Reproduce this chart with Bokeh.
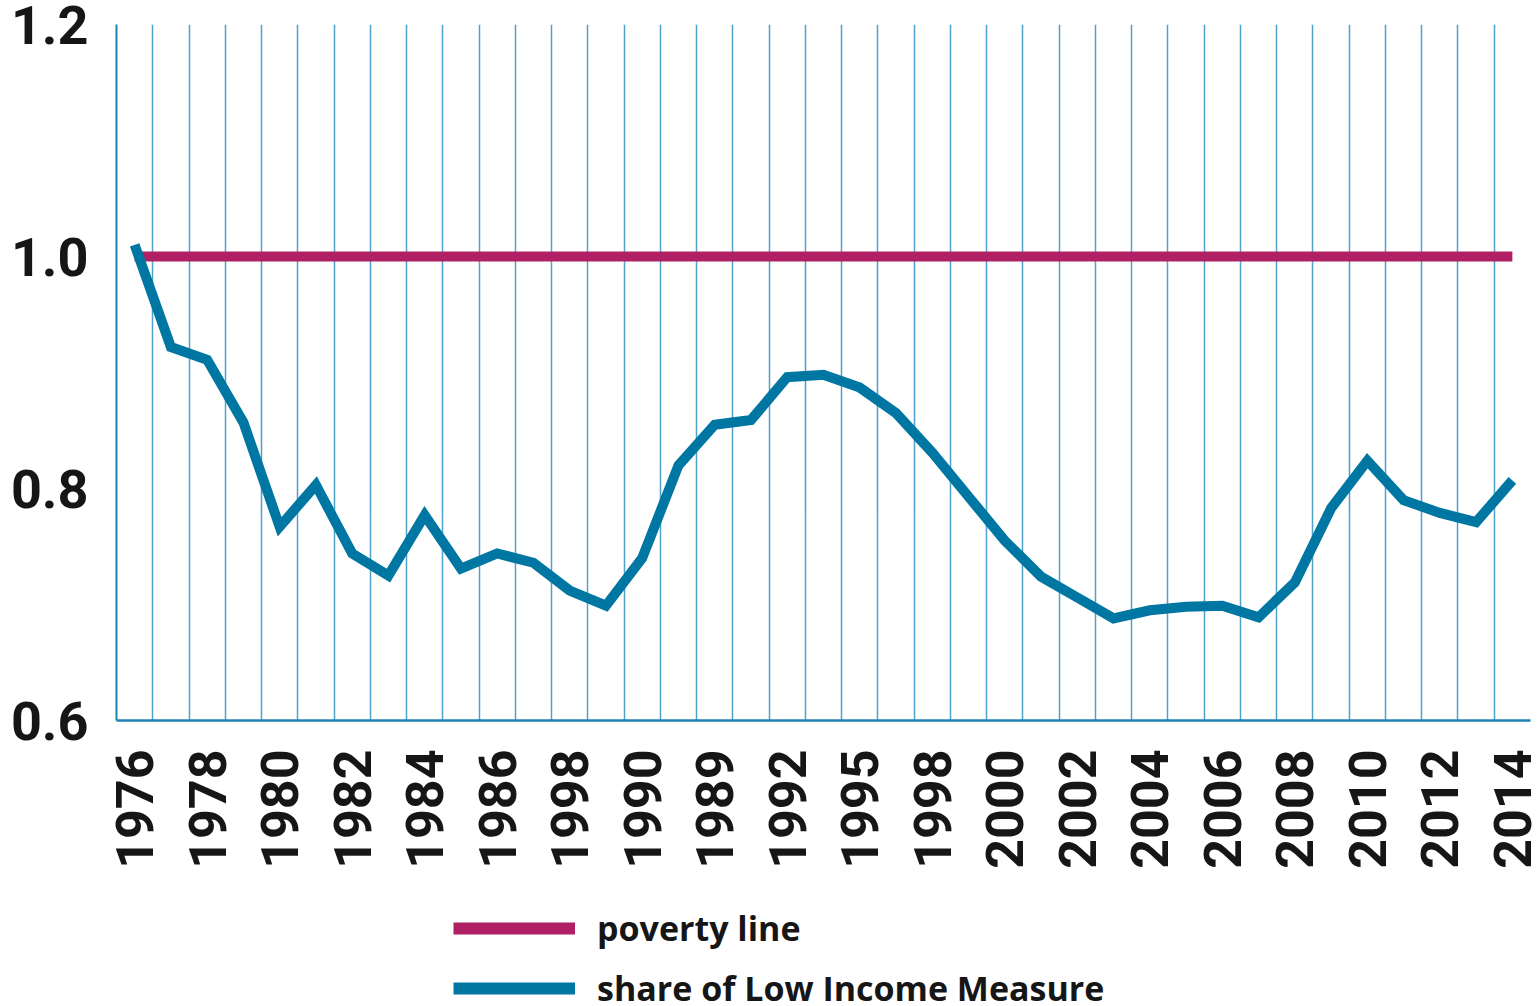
import math
from bokeh.plotting import figure
from bokeh.layouts import column
from bokeh.models import FixedTicker, Legend, LegendItem, Range1d, PrintfTickFormatter, ColumnDataSource
from bokeh.embed import file_html
from bokeh.resources import INLINE

# x-axis tick labels (as printed on the original chart, every second year slot)
tick_labels = ["1976", "1978", "1980", "1982", "1984", "1986", "1998", "1990", "1989", "1992",
               "1995", "1998", "2000", "2002", "2004", "2006", "2008", "2010", "2012", "2014"]

# share of Low Income Measure, one value per year slot 1976..2014
share_lim = [1.010, 0.922, 0.911, 0.857, 0.767, 0.803, 0.744, 0.725, 0.777, 0.731,
             0.744, 0.736, 0.712, 0.699, 0.740, 0.820, 0.855, 0.859, 0.896, 0.898,
             0.887, 0.865, 0.831, 0.793, 0.755, 0.724, 0.706, 0.688, 0.695, 0.698,
             0.699, 0.689, 0.719, 0.783, 0.824, 0.790, 0.779, 0.771, 0.807]

# poverty line (constant ratio 1.0)
poverty_line = [1.0] * len(share_lim)

y_ticks = [0.6, 0.8, 1.0, 1.2]
series_names = ["poverty line", "share of Low Income Measure"]

n = len(share_lim)
xs = list(range(n))
src = ColumnDataSource(dict(x=xs, share=share_lim, poverty=poverty_line))

TEAL = "#0077a2"
MAGENTA = "#b11f64"
GRID = "#3d97c4"
AXIS = "#1f80b3"
TXT = "#161616"

p = figure(width=1538, height=880, output_backend="svg", toolbar_location=None,
           x_range=Range1d(-0.5, n - 0.5), y_range=Range1d(0.6, 1.2),
           min_border_left=116, min_border_right=8, min_border_top=24, min_border_bottom=160)
p.outline_line_color = None
p.background_fill_color = "white"
p.border_fill_color = "white"

# grid: vertical lines at slot boundaries only
p.ygrid.visible = False
p.xgrid.ticker = FixedTicker(ticks=[i - 0.5 for i in range(n + 1)])
p.xgrid.grid_line_color = GRID
p.xgrid.grid_line_width = 1.5
p.xgrid.grid_line_alpha = 0.9

# x axis
p.xaxis.ticker = FixedTicker(ticks=list(range(0, n, 2)))
p.xaxis.major_label_overrides = {i * 2: lab for i, lab in enumerate(tick_labels)}
p.xaxis.major_label_orientation = math.pi / 2
p.xaxis.major_label_text_font = "Roboto"
p.xaxis.major_label_text_font_style = "bold"
p.xaxis.major_label_text_font_size = "52px"
p.xaxis.major_label_text_color = TXT
p.xaxis.major_label_standoff = 23
p.xaxis.major_tick_line_color = None
p.xaxis.minor_tick_line_color = None
p.xaxis.axis_line_color = AXIS
p.xaxis.axis_line_width = 2.5

# y axis
p.yaxis.ticker = FixedTicker(ticks=y_ticks)
p.yaxis.formatter = PrintfTickFormatter(format="%.1f")
p.yaxis.major_label_text_font = "Roboto"
p.yaxis.major_label_text_font_style = "bold"
p.yaxis.major_label_text_font_size = "54px"
p.yaxis.major_label_text_color = TXT
p.yaxis.major_label_standoff = 22
p.yaxis.major_tick_line_color = None
p.yaxis.minor_tick_line_color = None
p.yaxis.axis_line_color = AXIS
p.yaxis.axis_line_width = 2

p.line("x", "poverty", source=src, line_color=MAGENTA, line_width=10)
p.line("x", "share", source=src, line_color=TEAL, line_width=10, line_join="miter")

# legend strip below the chart (its frame is aligned with the chart's frame)
lg = figure(width=1538, height=126, output_backend="svg", toolbar_location=None,
            x_range=Range1d(-0.5, n - 0.5), y_range=Range1d(0.0, 0.5),
            x_axis_location=None, y_axis_location=None,
            min_border_left=0, min_border_right=0, min_border_top=0, min_border_bottom=0)
lg.outline_line_color = None
lg.grid.visible = False
lg_src = ColumnDataSource(dict(x=xs, share=share_lim, poverty=poverty_line))
# same series, outside this strip's visible range: only their legend swatches show
k_pov = lg.line("x", "poverty", source=lg_src, line_color=MAGENTA, line_width=12)
k_share = lg.line("x", "share", source=lg_src, line_color=TEAL, line_width=12)

legend = Legend(items=[LegendItem(label=series_names[0], renderers=[k_pov]),
                       LegendItem(label=series_names[1], renderers=[k_share])],
                location=(337, -6), orientation="vertical",
                glyph_width=122, glyph_height=48, label_height=48, spacing=12,
                label_standoff=22, padding=0, margin=0,
                border_line_color=None, background_fill_alpha=0,
                label_text_font="Open Sans", label_text_font_style="bold",
                label_text_font_size="34px", label_text_color=TXT)
lg.add_layout(legend, "center")

layout = column(p, lg, spacing=0)
open("out.html", "w").write(file_html(layout, INLINE))
